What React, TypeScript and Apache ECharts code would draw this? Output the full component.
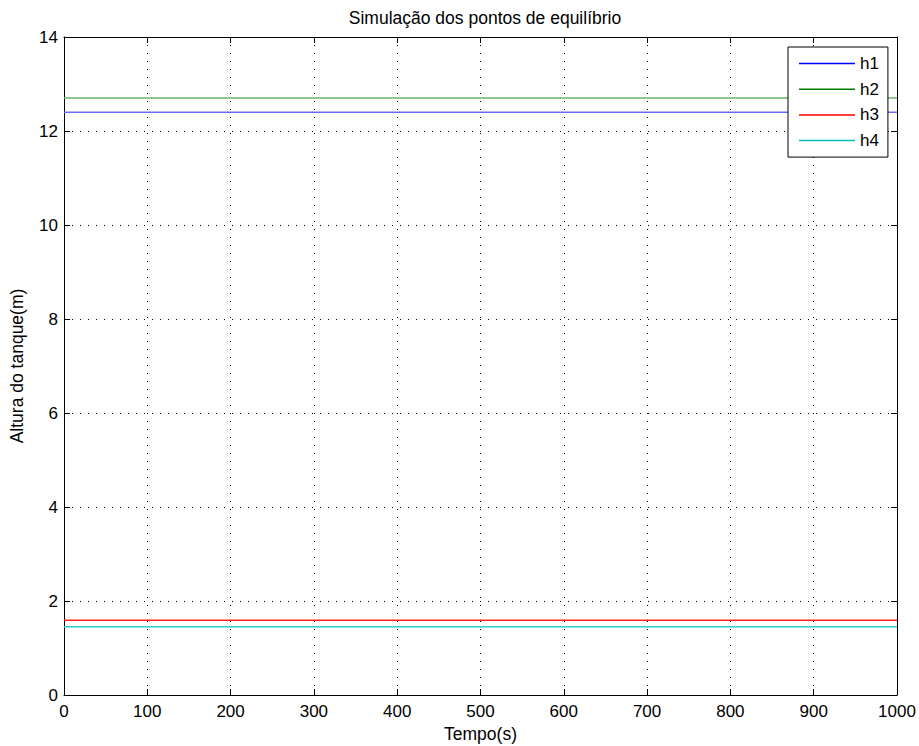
import React, { useEffect, useRef } from "react";
import * as echarts from "echarts";

const time = [0, 1000];
const h1 = [12.4, 12.4];
const h2 = [12.7, 12.7];
const h3 = [1.59, 1.59];
const h4 = [1.45, 1.45];
const seriesNames = ["h1", "h2", "h3", "h4"];
const seriesColors = ["#0000ff", "#008000", "#ff0000", "#00bfbf"];
const lineColors = ["#6a6aff", "#6ab46a", "#ff2020", "#30cccc"];
const seriesValues = [h1, h2, h3, h4];

const FONT = "Liberation Sans, Arial, Helvetica, sans-serif";

export default function App() {
  const ref = useRef<HTMLDivElement>(null);
  useEffect(() => {
    if (!ref.current) return;
    const chart = echarts.init(ref.current, undefined, { renderer: "svg" });
    const tickCommon = { show: true, inside: true, length: 6, lineStyle: { color: "#000", width: 1 } };
    const axisLineCommon = { show: true, onZero: false, lineStyle: { color: "#000", width: 1 } };
    const gridDots = { show: true, lineStyle: { color: "#000", type: [1, 7], width: 1 } };
    chart.setOption({
      animation: false,
      backgroundColor: "#fff",
      textStyle: { fontFamily: FONT },
      title: {
        text: "Simulação dos pontos de equilíbrio",
        left: 480,
        top: 4,
        textAlign: "center",
        textStyle: { fontSize: 17.5, fontWeight: "normal", color: "#000", fontFamily: FONT },
      },
      legend: {
        orient: "vertical",
        left: 788,
        top: 47,
        icon: "rect",
        itemWidth: 56,
        itemHeight: 1.5,
        itemGap: 8.7,
        padding: [8, 9, 8, 11],
        borderColor: "#000",
        borderWidth: 1,
        backgroundColor: "#fff",
        textStyle: { fontSize: 17, lineHeight: 14, color: "#000", fontFamily: FONT },
        data: seriesNames,
      },
      grid: { left: 64, right: 22, top: 37, bottom: 51, containLabel: false, outerBoundsMode: "none" },
      xAxis: [
        {
          type: "value",
          min: 0,
          max: 1000,
          interval: 100,
          name: "Tempo(s)",
          nameLocation: "middle",
          nameGap: 29,
          nameTextStyle: { fontSize: 17.5, color: "#000", fontFamily: FONT },
          axisLine: axisLineCommon,
          axisTick: tickCommon,
          axisLabel: { fontSize: 17, color: "#000", margin: 8, fontFamily: FONT, formatter: (v: number) => String(v) },
          splitLine: gridDots,
        },
        {
          type: "value",
          position: "top",
          min: 0,
          max: 1000,
          interval: 100,
          axisLine: axisLineCommon,
          axisTick: tickCommon,
          axisLabel: { show: false },
          splitLine: { show: false },
        },
      ],
      yAxis: [
        {
          type: "value",
          min: 0,
          max: 14,
          interval: 2,
          name: "Altura do tanque(m)",
          nameLocation: "middle",
          nameGap: 38,
          nameTextStyle: { fontSize: 17.5, color: "#000", fontFamily: FONT },
          axisLine: axisLineCommon,
          axisTick: tickCommon,
          axisLabel: { fontSize: 17, color: "#000", margin: 6, fontFamily: FONT },
          splitLine: gridDots,
        },
        {
          type: "value",
          position: "right",
          min: 0,
          max: 14,
          interval: 2,
          axisLine: axisLineCommon,
          axisTick: tickCommon,
          axisLabel: { show: false },
          splitLine: { show: false },
        },
      ],
      series: seriesNames.map((name, i) => ({
        name,
        type: "line",
        symbol: "none",
        itemStyle: { color: seriesColors[i] },
        lineStyle: { width: 1.5, color: lineColors[i] },
        data: time.map((t, j) => [t, seriesValues[i][j]]),
      })),
    });
    return () => chart.dispose();
  }, []);
  return (
    <div
      ref={ref}
      style={{ position: "fixed", left: 0, top: 0, width: 919, height: 746 }}
    />
  );
}
